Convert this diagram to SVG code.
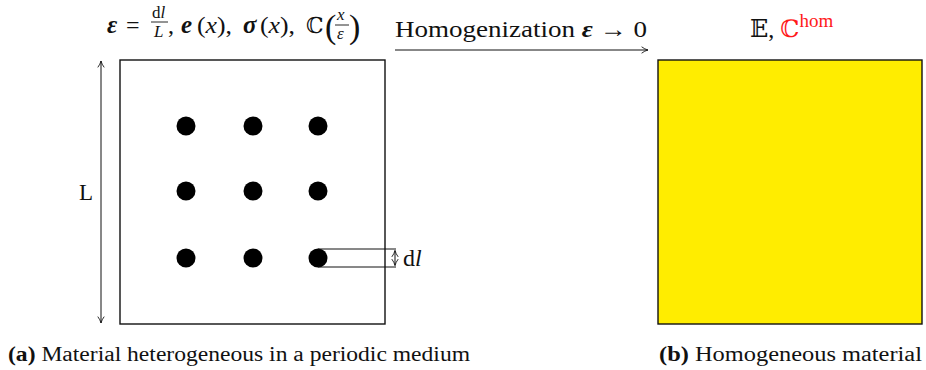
<svg xmlns="http://www.w3.org/2000/svg" width="926" height="370" viewBox="0 0 926 370">
<style>
.m{font-family:"Liberation Serif","DejaVu Serif",serif;fill:#111}
.bi{font-weight:bold;font-style:italic}
.it{font-style:italic}
.ln{stroke:#111;stroke-width:1;fill:none}
.fl{stroke:#111;stroke-width:0.9}
.dot{fill:#000}
</style>
<defs>
<marker id="ah" viewBox="0 0 10 10" refX="9" refY="5" markerWidth="8" markerHeight="8" orient="auto-start-reverse" markerUnits="userSpaceOnUse">
<path d="M1,1 Q5,4 9,5 Q5,6 1,9" fill="none" stroke="#111" stroke-width="1.1"/>
</marker>
</defs>
<g id="formula">
<text class="m bi" font-size="25" x="107" y="33">ε</text>
<text class="m" font-size="24" x="126" y="33">=</text>
<text class="m" font-size="17" x="152" y="18">d<tspan class="it">l</tspan></text>
<line class="fl" x1="151" y1="22" x2="168" y2="22"/>
<text class="m it" font-size="17" x="154" y="37">L</text>
<text class="m" font-size="24" x="168" y="33">,</text>
<text class="m bi" font-size="25" x="181" y="33">e</text>
<text class="m" font-size="24" x="197" y="33" textLength="35" lengthAdjust="spacingAndGlyphs">(<tspan class="it">x</tspan>),</text>
<text class="m bi" font-size="25" x="243" y="33">σ</text>
<text class="m" font-size="24" x="260" y="33" textLength="35" lengthAdjust="spacingAndGlyphs">(<tspan class="it">x</tspan>),</text>
<text class="m" font-size="22" x="306" y="33">ℂ</text>
<text class="m" font-size="34" x="325" y="38">(</text>
<text class="m it" font-size="17" x="337" y="20">x</text>
<line class="fl" x1="335" y1="25" x2="349" y2="25"/>
<text class="m it" font-size="17" x="337" y="39">ε</text>
<text class="m" font-size="34" x="349" y="38">)</text>
</g>
<g id="homog">
<text class="m" font-size="24" x="395" y="37" textLength="252" lengthAdjust="spacingAndGlyphs">Homogenization <tspan class="bi">ε</tspan> → 0</text>
<line class="ln" x1="395" y1="50" x2="648" y2="50" marker-end="url(#ah)"/>
</g>
<g id="result">
<text class="m" font-size="24" x="750" y="37">𝔼, <tspan fill="#ff1a1a">ℂ</tspan><tspan fill="#ff1a1a" font-size="19" dy="-10">hom</tspan></text>
</g>
<g id="hetero">
<rect x="120" y="60" width="265" height="264" fill="#fff" stroke="#111" stroke-width="1.4"/>
<circle class="dot" cx="186" cy="126" r="9.5"/>
<circle class="dot" cx="253" cy="126" r="9.5"/>
<circle class="dot" cx="318" cy="126" r="9.5"/>
<circle class="dot" cx="186" cy="191" r="9.5"/>
<circle class="dot" cx="253" cy="191" r="9.5"/>
<circle class="dot" cx="318" cy="191" r="9.5"/>
<circle class="dot" cx="186" cy="258" r="9.5"/>
<circle class="dot" cx="253" cy="258" r="9.5"/>
<circle class="dot" cx="318" cy="258" r="9.5"/>
</g>
<g id="connectors">
<line class="ln" x1="318" y1="249" x2="396" y2="249"/>
<line class="ln" x1="318" y1="267" x2="396" y2="267"/>
<line class="ln" x1="395" y1="250.5" x2="395" y2="265.5" marker-start="url(#ah)" marker-end="url(#ah)"/>
<line class="ln" x1="101" y1="61" x2="101" y2="323" marker-start="url(#ah)" marker-end="url(#ah)"/>
</g>
<g id="dl-label">
<text class="m" font-size="24" x="403" y="266">d<tspan class="it">l</tspan></text>
</g>
<g id="L-label">
<text class="m" font-size="23" x="79" y="200">L</text>
</g>
<g id="homogeneous">
<rect x="658" y="60" width="264" height="264" fill="#ffed00" stroke="#111" stroke-width="1.4"/>
</g>
<g id="captions">
<text class="m" font-size="20" x="8" y="361" textLength="462" lengthAdjust="spacingAndGlyphs"><tspan font-weight="bold">(a)</tspan> Material heterogeneous in a periodic medium</text>
<text class="m" font-size="20" x="659" y="361" textLength="263" lengthAdjust="spacingAndGlyphs"><tspan font-weight="bold">(b)</tspan> Homogeneous material</text>
</g>
</svg>
